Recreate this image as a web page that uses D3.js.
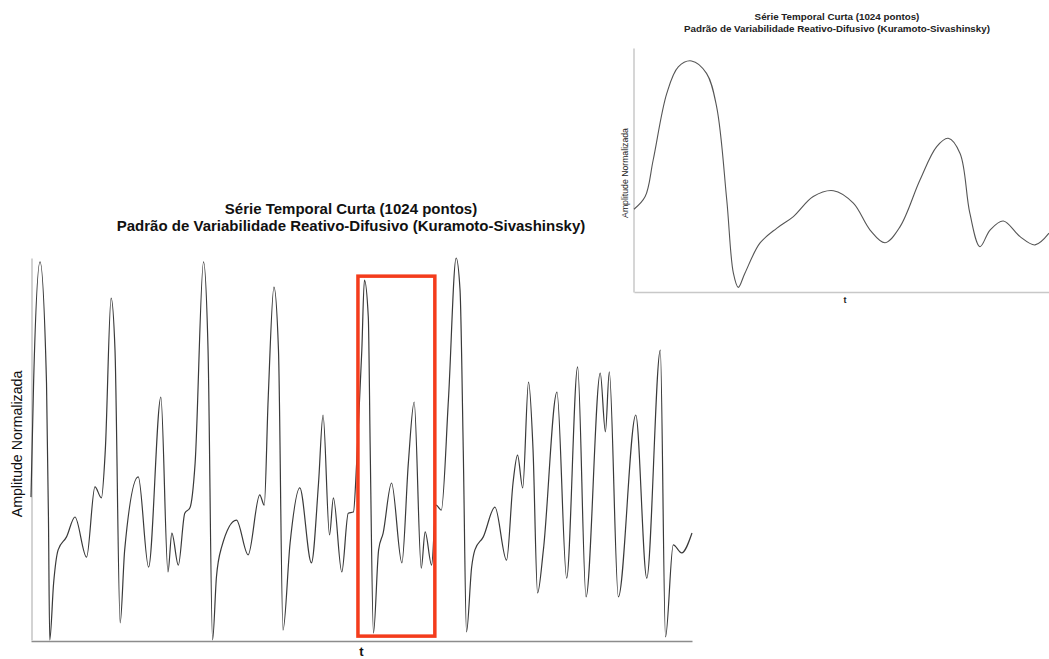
<!DOCTYPE html>
<html>
<head>
<meta charset="utf-8">
<script src="https://cdn.jsdelivr.net/npm/d3@7"></script>
<style>
  html, body { margin: 0; padding: 0; background: #fff; }
  svg { display: block; font-family: "Liberation Sans", Arial, sans-serif; }
</style>
</head>
<body>
<svg id="chart" width="1049" height="659"></svg>
<script>
// Série completa (índice de amostra 0..1023, amplitude normalizada 0..1)
const serieT = [0,4,14,24,27,29,35,42,55,68,86,99,109,115,124,130,138,145,166,182,
  201,212,218,228,238,246,254,267,274,281,287,295,318,336,354,361,367,376,383,390,
  401,416,434,445,452,462,468,481,491,499,504,512,516,522,525,530,538,545,558,574,
  584,593,604,610,620,627,635,646,658,664,669,674,682,687,700,718,736,746,753,761,
  770,777,784,793,814,829,846,859,881,889,895,909,936,953,974,982,994,1007,1023];
const serieValores = [0.374,0.673,0.990,0.673,0.322,0.000,0.149,0.236,0.270,0.322,
  0.217,0.401,0.372,0.497,0.895,0.759,0.045,0.236,0.427,0.191,
  0.636,0.178,0.280,0.196,0.332,0.346,0.463,0.990,0.759,0.000,
  0.165,0.243,0.314,0.223,0.380,0.353,0.628,0.924,0.759,0.026,
  0.254,0.398,0.202,0.411,0.589,0.275,0.372,0.178,0.332,0.335,
  0.463,0.759,0.942,0.846,0.497,0.018,0.236,0.280,0.411,0.202,
  0.463,0.623,0.188,0.283,0.196,0.353,0.340,0.628,1.000,0.916,
  0.497,0.021,0.191,0.236,0.270,0.348,0.209,0.411,0.484,0.398,
  0.675,0.497,0.123,0.236,0.649,0.162,0.715,0.113,0.699,0.545,
  0.702,0.113,0.589,0.162,0.759,0.008,0.249,0.228,0.280];

// Janela destacada (início e fim, em amostras)
const janela = [506, 625];

// Detalhe ampliado da janela
const detalheT = [506,509.2,511.5,515.4,518.7,522.5,526.8,529.7,532.6,534.5,
  535.9,537.8,542.1,546.9,551.7,557.4,563.2,568.9,573.7,578,
  582.3,588,592.8,596.1,599.5,602.3,605.2,608.1,611.9,616.7,621,625];
const detalheValores = [0.339,0.391,0.541,0.814,0.923,0.947,0.896,0.759,0.377,0.077,
  0.019,0.077,0.200,0.261,0.309,0.391,0.415,0.364,0.254,0.202,
  0.268,0.459,0.596,0.630,0.568,0.323,0.186,0.254,0.291,0.227,0.193,0.241];

// Textos
const tituloLinhas = [
  "Série Temporal Curta (1024 pontos)",
  "Padrão de Variabilidade Reativo-Difusivo (Kuramoto-Sivashinsky)"
];
const rotuloY = "Amplitude Normalizada";
const rotuloX = "t";

const svg = d3.select("#chart");
svg.append("rect").attr("width", 1049).attr("height", 659).attr("fill", "#fff");

// ---------- Gráfico principal ----------
const main = { left: 31, right: 692, top: 258, bottom: 640 };
const x = d3.scaleLinear().domain([0, 1023]).range([main.left, main.right]);
const y = d3.scaleLinear().domain([0, 1]).range([main.bottom, main.top]);

const serie = serieT.map((t, i) => ({ t, v: serieValores[i] }));
const linha = d3.line().x(d => x(d.t)).y(d => y(d.v)).curve(d3.curveMonotoneX);

// eixos sem marcas
const eixoX = svg.append("g").attr("transform", `translate(0,${main.bottom + 1})`)
  .call(d3.axisBottom(x).tickValues([]).tickSizeOuter(0));
eixoX.select(".domain").attr("stroke", "#8c8c8c").attr("stroke-width", 1.5);
const eixoY = svg.append("g").attr("transform", `translate(${main.left + 0.5},0)`)
  .call(d3.axisLeft(y).tickValues([]).tickSizeOuter(0));
eixoY.select(".domain").attr("stroke", "#c4c4c4").attr("stroke-width", 1.5);

svg.append("path").datum(serie)
  .attr("d", linha)
  .attr("fill", "none")
  .attr("stroke", "#3a3a3a")
  .attr("stroke-width", 1.2)
  .attr("stroke-linejoin", "round");

// retângulo da janela destacada
const trecho = serie.filter(d => d.t >= janela[0] && d.t <= janela[1]);
const vMax = d3.max(trecho, d => d.v), vMin = d3.min(trecho, d => d.v);
const bx0 = x(janela[0]), bx1 = x(janela[1]);
const by0 = y(vMax) - 4, by1 = y(vMin) + 3;
svg.append("rect")
  .attr("x", bx0).attr("y", by0)
  .attr("width", bx1 - bx0).attr("height", by1 - by0)
  .attr("fill", "none")
  .attr("stroke", "#f43c1c")
  .attr("stroke-width", 3.5);

// títulos e rótulos
svg.append("g").selectAll("text").data(tituloLinhas).join("text")
  .attr("x", 351).attr("y", (d, i) => 213.5 + i * 17)
  .attr("text-anchor", "middle")
  .attr("font-size", 15).attr("font-weight", "bold").attr("fill", "#111")
  .text(d => d);
svg.append("text")
  .attr("transform", `translate(21.5,${(main.top + main.bottom) / 2 - 5}) rotate(-90)`)
  .attr("text-anchor", "middle").attr("font-size", 14.2).attr("fill", "#111")
  .text(rotuloY);
svg.append("text")
  .attr("x", (main.left + main.right) / 2).attr("y", 655.5)
  .attr("text-anchor", "middle").attr("font-size", 13).attr("font-weight", "bold")
  .attr("fill", "#111").text(rotuloX);

// ---------- Detalhe ampliado ----------
const ins = { left: 634, right: 1049, top: 48, bottom: 292 };
const xi = d3.scaleLinear().domain(janela).range([ins.left, ins.right]);
const yi = d3.scaleLinear().domain([0, 1]).range([ins.bottom, ins.top]);
const detalhe = detalheT.map((t, i) => ({ t, v: detalheValores[i] }));

const eixoXi = svg.append("g").attr("transform", `translate(0,${ins.bottom})`)
  .call(d3.axisBottom(xi).tickValues([]).tickSizeOuter(0));
eixoXi.select(".domain").attr("stroke", "#c8c8c8").attr("stroke-width", 1.5);
const eixoYi = svg.append("g").attr("transform", `translate(${ins.left - 0.5},0)`)
  .call(d3.axisLeft(yi).tickValues([]).tickSizeOuter(0));
eixoYi.select(".domain").attr("stroke", "#c8c8c8").attr("stroke-width", 1.5);

svg.append("path").datum(detalhe)
  .attr("d", d3.line().x(d => xi(d.t)).y(d => yi(d.v)).curve(d3.curveCatmullRom.alpha(0.5)))
  .attr("fill", "none")
  .attr("stroke", "#555")
  .attr("stroke-width", 1.1);

svg.append("g").selectAll("text").data(tituloLinhas).join("text")
  .attr("x", 837).attr("y", (d, i) => 19.5 + i * 12.5)
  .attr("text-anchor", "middle")
  .attr("font-size", 9.8).attr("font-weight", "bold").attr("fill", "#222")
  .text(d => d);
svg.append("text")
  .attr("transform", "translate(628,173) rotate(-90)")
  .attr("text-anchor", "middle").attr("font-size", 8.7).attr("fill", "#222")
  .text(rotuloY);
svg.append("text")
  .attr("x", 845).attr("y", 303)
  .attr("text-anchor", "middle").attr("font-size", 9).attr("font-weight", "bold")
  .attr("fill", "#222").text(rotuloX);
</script>
</body>
</html>
